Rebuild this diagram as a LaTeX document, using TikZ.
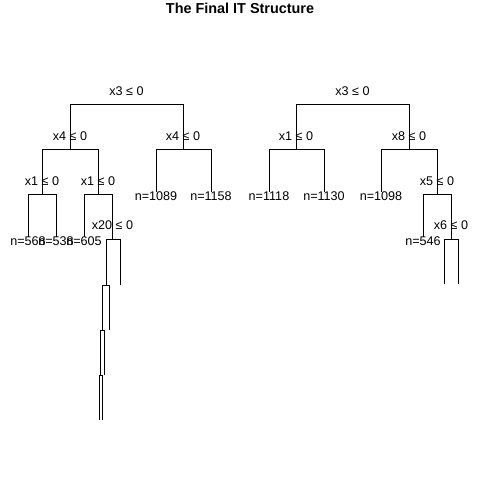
\documentclass[tikz,border=0pt]{standalone}
\usepackage{fontspec}
\setmainfont{Liberation Sans}
\begin{document}
\begin{tikzpicture}[x=1pt,y=-1pt,
  edge/.style={line width=1pt},
  lab/.style={font=\fontsize{12.6}{14}\selectfont, inner sep=0pt}]
\useasboundingbox (0,0) rectangle (480,480);
\node[font=\fontsize{14.4}{16}\selectfont\bfseries, inner sep=0pt] (title) at (240,8) {The Final IT Structure};

% ---------- left tree ----------
\coordinate (Al) at (70,104); \coordinate (Ar) at (183,104);
\draw[edge] (Al) -- (Ar);
\node[lab] (tA) at (126.5,91) {x3 ≤ 0};

\coordinate (B) at (70,149); \coordinate (Bl) at (42,149); \coordinate (Br) at (98,149);
\draw[edge] (Al) -- (B); \draw[edge] (Bl) -- (Br);
\node[lab] (tB) at (70,136) {x4 ≤ 0};

\coordinate (C) at (183,149); \coordinate (Cl) at (156,149); \coordinate (Cr) at (211,149);
\draw[edge] (Ar) -- (C); \draw[edge] (Cl) -- (Cr);
\node[lab] (tC) at (183,136) {x4 ≤ 0};
\coordinate (c1) at (156,192); \coordinate (c2) at (211,192);
\draw[edge] (Cl) -- (c1); \draw[edge] (Cr) -- (c2);
\node[lab] (n1089) at (156,196) {n=1089};
\node[lab] (n1158) at (211,196) {n=1158};

\coordinate (D) at (42,194); \coordinate (Dl) at (28,194); \coordinate (Dr) at (56,194);
\draw[edge] (Bl) -- (D); \draw[edge] (Dl) -- (Dr);
\node[lab] (tD) at (42,181) {x1 ≤ 0};
\coordinate (d1) at (28,237); \coordinate (d2) at (56,237);
\draw[edge] (Dl) -- (d1); \draw[edge] (Dr) -- (d2);
\node[lab] (n568) at (28,241) {n=568};
\node[lab] (n538) at (56,241) {n=538};

\coordinate (E) at (98,194); \coordinate (El) at (84,194); \coordinate (Er) at (112,194);
\draw[edge] (Br) -- (E); \draw[edge] (El) -- (Er);
\node[lab] (tE) at (98,181) {x1 ≤ 0};
\coordinate (e1) at (84,237);
\draw[edge] (El) -- (e1);
\node[lab] (n605) at (84,241) {n=605};

\coordinate (F) at (112,239); \coordinate (Fl) at (106,239); \coordinate (Fr) at (120,239);
\draw[edge] (Er) -- (F); \draw[edge] (Fl) -- (Fr);
\node[lab] (tF) at (112.5,225) {x20 ≤ 0};
\coordinate (f1) at (120,285);
\draw[edge] (Fr) -- (f1);

\coordinate (G) at (106,285); \coordinate (Gl) at (102.3,285); \coordinate (Gr) at (109.3,285);
\draw[edge] (Fl) -- (G); \draw[edge] (Gl) -- (Gr);
\coordinate (g1) at (109.3,330);
\draw[edge] (Gr) -- (g1);

\coordinate (H) at (102.3,330); \coordinate (Hl) at (100,330); \coordinate (Hr) at (104.3,330);
\draw[edge] (Gl) -- (H); \draw[edge] (Hl) -- (Hr);
\coordinate (h1) at (104.3,375);
\draw[edge] (Hr) -- (h1);

\coordinate (I) at (100,375); \coordinate (Il) at (99,375); \coordinate (Ir) at (102,375);
\draw[edge] (Hl) -- (I); \draw[edge] (Il) -- (Ir);
\coordinate (i1) at (99,420); \coordinate (i2) at (102,420);
\draw[edge] (Il) -- (i1); \draw[edge] (Ir) -- (i2);

% ---------- right tree ----------
\coordinate (Pl) at (296,104); \coordinate (Pr) at (409,104);
\draw[edge] (Pl) -- (Pr);
\node[lab] (tP) at (352.5,91) {x3 ≤ 0};

\coordinate (Q) at (296,149); \coordinate (Ql) at (269,149); \coordinate (Qr) at (324,149);
\draw[edge] (Pl) -- (Q); \draw[edge] (Ql) -- (Qr);
\node[lab] (tQ) at (296,136) {x1 ≤ 0};
\coordinate (q1) at (269,192); \coordinate (q2) at (324,192);
\draw[edge] (Ql) -- (q1); \draw[edge] (Qr) -- (q2);
\node[lab] (n1118) at (269,196) {n=1118};
\node[lab] (n1130) at (324,196) {n=1130};

\coordinate (R) at (409,149); \coordinate (Rl) at (381,149); \coordinate (Rr) at (437,149);
\draw[edge] (Pr) -- (R); \draw[edge] (Rl) -- (Rr);
\node[lab] (tR) at (409,136) {x8 ≤ 0};
\coordinate (r1) at (381,192);
\draw[edge] (Rl) -- (r1);
\node[lab] (n1098) at (381,196) {n=1098};

\coordinate (S) at (437,194); \coordinate (Sl) at (423,194); \coordinate (Sr) at (451,194);
\draw[edge] (Rr) -- (S); \draw[edge] (Sl) -- (Sr);
\node[lab] (tS) at (437,181) {x5 ≤ 0};
\coordinate (s1) at (423,237);
\draw[edge] (Sl) -- (s1);
\node[lab] (n546) at (423,241) {n=546};

\coordinate (T) at (451,239); \coordinate (Tl) at (444.5,239); \coordinate (Tr) at (458.5,239);
\draw[edge] (Sr) -- (T); \draw[edge] (Tl) -- (Tr);
\node[lab] (tT) at (451,225) {x6 ≤ 0};
\coordinate (t1) at (444.5,284); \coordinate (t2) at (458.5,284);
\draw[edge] (Tl) -- (t1); \draw[edge] (Tr) -- (t2);
\end{tikzpicture}
\end{document}
